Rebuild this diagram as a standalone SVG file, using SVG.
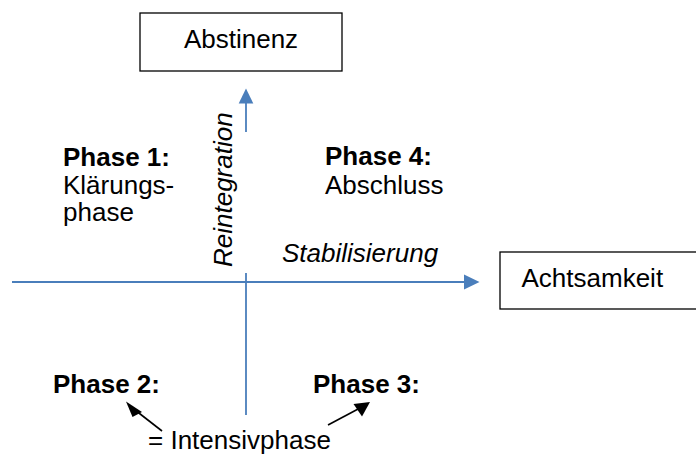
<svg xmlns="http://www.w3.org/2000/svg" width="696" height="454" viewBox="0 0 696 454">
<style>
text { font-family: "Liberation Sans", Arial, sans-serif; font-size: 26px; fill: #000; }
.b { font-weight: bold; }
.i { font-style: italic; }
.box { fill: #fff; stroke: #000; stroke-width: 1.3; }
.axis { stroke: #4a7ebb; stroke-width: 1.8; fill: none; }
.blk { stroke: #000; stroke-width: 1.6; fill: none; }
.hb { fill: #4a7ebb; }
.hk { fill: #000; }
</style>
<g id="connectors">
<line class="axis" x1="12" y1="282" x2="464" y2="282"/>
<path class="hb" d="M464,274.5 L479.5,282 L464,289.5 z"/>
<line class="axis" x1="246" y1="273" x2="246" y2="415"/>
<line class="axis" x1="246" y1="132" x2="246" y2="103"/>
<path class="hb" d="M238.7,103.5 L246,88.5 L253.3,103.5 z"/>
<line class="blk" x1="162" y1="431" x2="135" y2="410"/>
<path class="hk" d="M126,401.5 L142,412 L132.5,417 z"/>
<line class="blk" x1="328" y1="425" x2="360" y2="408"/>
<path class="hk" d="M370,402 L353.5,404 L362,416.5 z"/>
</g>
<g id="abstinenz">
<rect class="box" x="140" y="13" width="202" height="58"/>
<text x="241" y="48" text-anchor="middle">Abstinenz</text>
</g>
<g id="achtsamkeit">
<rect class="box" x="500" y="252" width="200" height="57"/>
<text x="521.5" y="287">Achtsamkeit</text>
</g>
<g id="phase1">
<text class="b" x="63" y="166">Phase 1:</text>
<text x="63" y="193.5">Klärungs-</text>
<text x="63" y="221">phase</text>
</g>
<g id="phase4">
<text class="b" x="325" y="165">Phase 4:</text>
<text x="325" y="193.5">Abschluss</text>
</g>
<g id="phase2">
<text class="b" x="53" y="393">Phase 2:</text>
</g>
<g id="phase3">
<text class="b" x="313" y="393">Phase 3:</text>
</g>
<g id="labels">
<text class="i" x="282" y="262">Stabilisierung</text>
<text class="i" transform="translate(231.5,267) rotate(-90)">Reintegration</text>
<text x="148" y="448.5">= Intensivphase</text>
</g>
</svg>
